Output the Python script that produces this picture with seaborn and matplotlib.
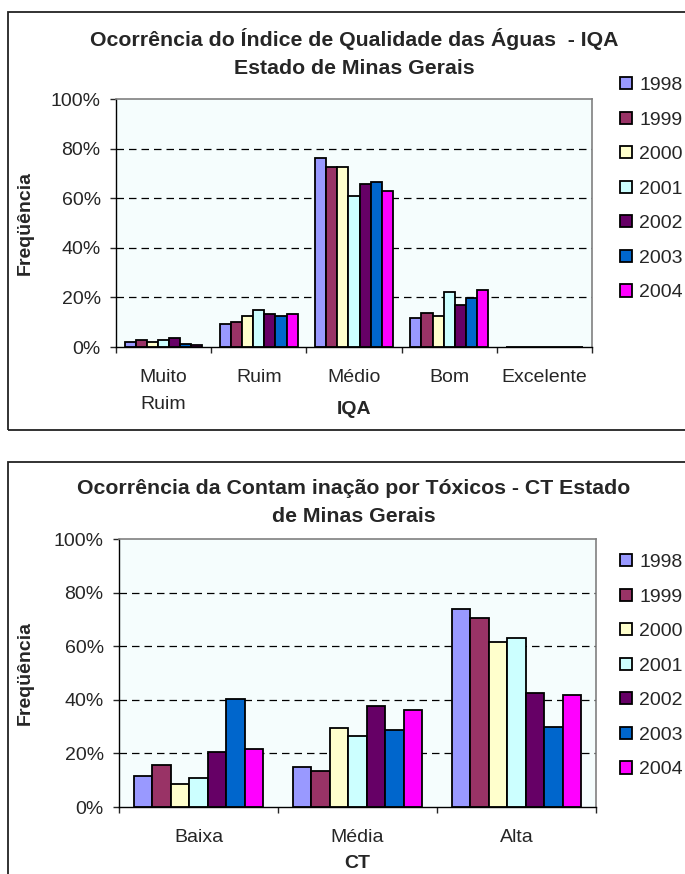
import pandas as pd
import matplotlib
matplotlib.use("Agg")
import matplotlib.pyplot as plt
import seaborn as sns
from matplotlib.patches import Rectangle
from matplotlib.ticker import PercentFormatter, FixedLocator

# Data (percent of stations per class)
years = ["1998", "1999", "2000", "2001", "2002", "2003", "2004"]
colors = ["#9999FF", "#993366", "#FFFFCC", "#CCFFFF", "#660066", "#0066CC", "#FF00FF"]

iqa_classes = ["Muito\nRuim", "Ruim", "Médio", "Bom", "Excelente"]
iqa_1998 = [2.0, 9.4, 76.2, 11.7, 0]
iqa_1999 = [2.8, 10.2, 72.4, 13.9, 0]
iqa_2000 = [2.1, 12.4, 72.4, 12.4, 0]
iqa_2001 = [2.8, 14.8, 60.7, 22.2, 0]
iqa_2002 = [3.6, 13.2, 65.8, 16.8, 0]
iqa_2003 = [1.3, 12.4, 66.5, 19.8, 0]
iqa_2004 = [0.7, 13.2, 62.9, 22.9, 0]

ct_classes = ["Baixa", "Média", "Alta"]
ct_1998 = [11.4, 14.9, 73.9]
ct_1999 = [15.7, 13.6, 70.5]
ct_2000 = [8.7, 29.4, 61.4]
ct_2001 = [10.8, 26.6, 62.9]
ct_2002 = [20.5, 37.6, 42.4]
ct_2003 = [40.3, 28.6, 30.0]
ct_2004 = [21.8, 36.2, 41.8]

iqa_values = [iqa_1998, iqa_1999, iqa_2000, iqa_2001, iqa_2002, iqa_2003, iqa_2004]
ct_values = [ct_1998, ct_1999, ct_2000, ct_2001, ct_2002, ct_2003, ct_2004]


def long_table(classes, values):
    rows = []
    for year, vals in zip(years, values):
        for c, v in zip(classes, vals):
            rows.append({"classe": c, "ano": year, "freq": v})
    return pd.DataFrame(rows)


sns.set_style("white")
plt.rcParams["font.family"] = ["Liberation Sans", "DejaVu Sans"]

W, H = 685, 874
fig = plt.figure(figsize=(W / 100, H / 100), dpi=100)
FS = 14


def fx(px):
    return px / W


def fy(py):
    return 1 - py / H


def panel(box, classes, values, xlabel, title, title_y, xlabel_y, leg_top, frame):
    left, top, right, bottom = box
    ax = fig.add_axes([fx(left), fy(bottom), fx(right - left), (bottom - top) / H])
    df = long_table(classes, values)
    sns.barplot(data=df, x="classe", y="freq", hue="ano", order=classes,
                hue_order=years, palette=colors, width=0.815, gap=0,
                edgecolor="black", linewidth=1.3, saturation=1, ax=ax, legend=True)
    leg = ax.get_legend()
    handles = leg.legend_handles
    labels = [t.get_text() for t in leg.get_texts()]
    leg.remove()

    ax.set_facecolor("#F5FDFD")
    ax.set_ylim(0, 100)
    ax.set_xlim(-0.5, len(classes) - 0.5)
    ax.yaxis.set_major_locator(FixedLocator([0, 20, 40, 60, 80, 100]))
    ax.yaxis.set_major_formatter(PercentFormatter(xmax=100, decimals=0))
    for g in [20, 40, 60, 80]:
        ax.axhline(g, color="black", lw=0.9, ls=(0, (6, 4)), zorder=0.5)
    ax.set_axisbelow(True)

    for s in ["top", "right"]:
        ax.spines[s].set_color("#808080")
        ax.spines[s].set_linewidth(1.2)
    for s in ["left", "bottom"]:
        ax.spines[s].set_color("black")
        ax.spines[s].set_linewidth(1)

    ax.xaxis.set_minor_locator(FixedLocator([i - 0.5 for i in range(len(classes) + 1)]))
    ax.tick_params(axis="x", which="major", length=0, pad=16, labelsize=FS)
    ax.tick_params(axis="x", which="minor", length=4, width=1, direction="out", bottom=True)
    ax.tick_params(axis="y", length=4, width=1, direction="out", left=True, pad=7, labelsize=FS)
    ax.set_xticklabels(classes, linespacing=1.75)

    ax.set_xlabel(xlabel, fontsize=FS, fontweight="bold")
    ax.xaxis.set_label_coords(0.5, xlabel_y)
    ax.set_ylabel("Freqüência", fontsize=FS, fontweight="bold")
    ax.yaxis.set_label_coords((34 - left) / (right - left), 0.5)

    fig.text(fx(354), fy(title_y), title, ha="center", va="center",
             fontsize=15.3, fontweight="bold", linespacing=1.6)

    fig.legend(handles, labels, loc="upper left",
               bbox_to_anchor=(fx(620), fy(leg_top)), frameon=False,
               fontsize=FS, handlelength=0.6, handleheight=0.6,
               handletextpad=0.4, labelspacing=0.9, borderpad=0,
               borderaxespad=0)

    fl, ft, fr, fb = frame
    fig.patches.append(Rectangle((fx(fl), fy(fb)), fx(fr - fl), (fb - ft) / H,
                                 transform=fig.transFigure, fill=False,
                                 edgecolor="#222222", lw=1.3, clip_on=False))
    return ax


panel((116, 99, 592, 347), iqa_classes, iqa_values, "IQA",
      "Ocorrência do Índice de Qualidade das Águas  - IQA\nEstado de Minas Gerais",
      53.5, -0.218, 77, (8, 12, 700, 430))

panel((119, 539, 596, 807), ct_classes, ct_values, "CT",
      "Ocorrência da Contam inação por Tóxicos - CT Estado\nde Minas Gerais",
      502, -0.18, 554, (8, 462, 700, 890))

fig.savefig("out.png", dpi=100, facecolor="white")
